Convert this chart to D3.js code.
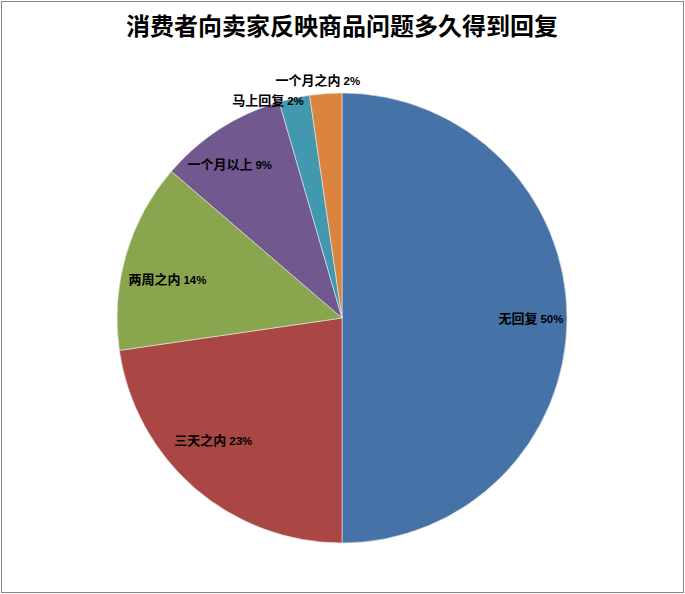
<!DOCTYPE html>
<html><head><meta charset="utf-8">
<script src="https://cdn.jsdelivr.net/npm/d3@7"></script>
<style>body{margin:0;background:#fff}svg{display:block}</style>
</head><body>
<svg id="c" width="685" height="594"></svg>
<script>
const title = "消费者向卖家反映商品问题多久得到回复";
const categories = ["无回复", "三天之内", "两周之内", "一个月以上", "马上回复", "一个月之内"];
const values = [50, 22.7, 13.6, 9.2, 2.2, 2.3];
const colors = ["#4572A7", "#AA4643", "#89A54E", "#71588F", "#4198AF", "#DB843D"];
// label placement (angle in degrees clockwise from top, radius as fraction of pie radius)
const labelAngle = [90, 226.4, 282.6, 323.8, 341.2, 354.2];
const labelRadius = [0.84, 0.79, 0.795, 0.845, 1.02, 1.06];

const W = 685, H = 594, cx = 342, cy = 318, R = 225;
const svg = d3.select("#c");
svg.append("rect").attr("x", 1.5).attr("y", 1.5).attr("width", W - 3).attr("height", H - 3)
  .attr("fill", "#fff").attr("stroke", "#878787").attr("stroke-width", 1);

svg.append("text").attr("x", cx).attr("y", 35).attr("text-anchor", "middle")
  .attr("font-family", "'Noto Sans CJK SC', sans-serif").attr("font-weight", "bold")
  .attr("font-size", 24).attr("fill", "#000").text(title);

const data = categories.map((c, i) => ({ cat: c, value: values[i], color: colors[i], i }));
const pie = d3.pie().value(d => d.value).sort(null);
const arc = d3.arc().innerRadius(0).outerRadius(R);
const g = svg.append("g").attr("transform", `translate(${cx},${cy})`);
g.selectAll("path").data(pie(data)).join("path")
  .attr("d", arc).attr("fill", d => d.data.color)
  .attr("stroke", "#eaeaea").attr("stroke-width", 0.6);

const fmt = d3.format(".0%");
const lab = g.selectAll("text.l").data(data).join("text").attr("class", "l")
  .attr("x", d => Math.sin(labelAngle[d.i] * Math.PI / 180) * labelRadius[d.i] * R)
  .attr("y", d => -Math.cos(labelAngle[d.i] * Math.PI / 180) * labelRadius[d.i] * R)
  .attr("dy", "0.35em").attr("text-anchor", "middle")
  .attr("font-weight", "bold").attr("font-size", 13).attr("fill", "#000");
lab.append("tspan").attr("font-family", "'Noto Sans CJK SC', sans-serif").text(d => d.cat + " ");
lab.append("tspan").attr("font-family", "'Liberation Sans', sans-serif").attr("font-size", 11.5)
  .text(d => fmt(Math.round(d.value) / 100));
</script>
</body></html>
